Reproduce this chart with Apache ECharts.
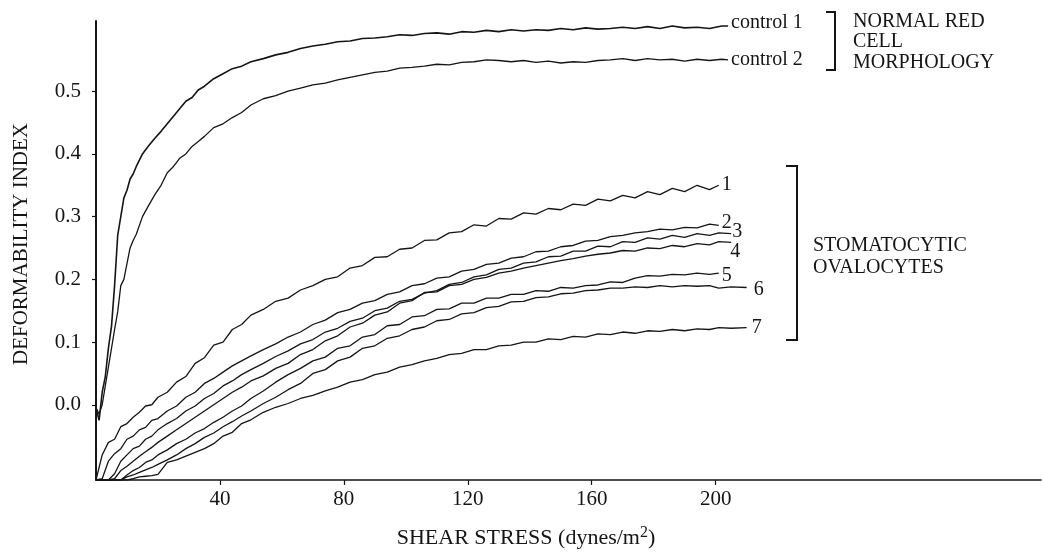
<!DOCTYPE html>
<html>
<head>
<meta charset="utf-8">
<script src="https://cdn.jsdelivr.net/npm/echarts@6/dist/echarts.min.js"></script>
<style>
html,body{margin:0;padding:0;background:#fff;}
#chart{width:1042px;height:557px;}
</style>
</head>
<body>
<div id="chart"></div>
<script>
// ---- data ----
var xTicks = [40, 80, 120, 160, 200];
var yTicks = [0, 0.1, 0.2, 0.3, 0.4, 0.5];

var controlX = [0,1,2,3,4,5,6,7,8,9,10,11,12,13,15,17,19,21,23,25,27,29,31,33,35,38,41,44,47,50,54,58,62,66,70,74,78,82,86,90,94,98,102,106,110,114,118,122,126,130,134,138,142,146,150,154,158,162,166,170,174,178,182,186,190,194,198,202,204];
var control1 = [-0.005,-0.025,0.02,0.045,0.09,0.125,0.19,0.27,0.3,0.33,0.342,0.36,0.368,0.38,0.4,0.413,0.425,0.436,0.448,0.46,0.472,0.484,0.49,0.502,0.508,0.52,0.528,0.536,0.54,0.547,0.552,0.558,0.562,0.568,0.572,0.575,0.579,0.58,0.584,0.585,0.587,0.59,0.589,0.592,0.593,0.591,0.595,0.594,0.597,0.595,0.598,0.596,0.598,0.597,0.6,0.598,0.601,0.599,0.6,0.602,0.6,0.603,0.6,0.604,0.601,0.602,0.6,0.604,0.604];
var control2 = [-0.005,-0.015,0.0,0.03,0.06,0.09,0.12,0.148,0.19,0.2,0.225,0.25,0.262,0.272,0.3,0.318,0.335,0.35,0.37,0.38,0.393,0.4,0.412,0.42,0.428,0.442,0.448,0.458,0.466,0.478,0.488,0.493,0.5,0.505,0.51,0.513,0.518,0.522,0.526,0.53,0.532,0.537,0.538,0.54,0.543,0.542,0.546,0.547,0.55,0.549,0.547,0.549,0.546,0.548,0.545,0.547,0.546,0.549,0.55,0.552,0.549,0.552,0.55,0.551,0.548,0.551,0.549,0.551,0.55];

var ovalX = [0,2,4,6,8,10,12,14,16,18,20,23,26,29,32,35,38,41,44,47,50,54,58,62,66,70,74,78,82,86,90,94,98,102,106,110,114,118,122,126,130,134,138,142,146,150,154,158,162,166,170,174,178,182,186,190,194,198,201,205,210];
var oval1 = [-0.12,-0.08,-0.06,-0.055,-0.035,-0.03,-0.02,-0.012,-0.002,0.0,0.012,0.02,0.036,0.045,0.066,0.075,0.095,0.1,0.12,0.128,0.143,0.152,0.165,0.17,0.183,0.19,0.2,0.204,0.218,0.222,0.235,0.236,0.248,0.25,0.262,0.263,0.274,0.276,0.287,0.285,0.297,0.296,0.306,0.304,0.313,0.311,0.32,0.318,0.328,0.325,0.334,0.33,0.34,0.335,0.345,0.34,0.35,0.343,0.35,null,null];
var oval2 = [-0.12,-0.118,-0.09,-0.078,-0.07,-0.055,-0.05,-0.04,-0.036,-0.025,-0.022,-0.01,-0.002,0.012,0.02,0.034,0.042,0.052,0.062,0.07,0.078,0.088,0.097,0.108,0.116,0.128,0.135,0.147,0.152,0.162,0.166,0.176,0.18,0.19,0.193,0.202,0.204,0.213,0.216,0.224,0.226,0.234,0.236,0.244,0.245,0.252,0.254,0.261,0.262,0.268,0.27,0.274,0.276,0.28,0.279,0.283,0.282,0.288,0.286,null,null];
var oval3 = [-0.12,-0.12,-0.12,-0.11,-0.09,-0.08,-0.07,-0.066,-0.055,-0.05,-0.04,-0.03,-0.022,-0.01,-0.002,0.01,0.018,0.03,0.038,0.048,0.056,0.066,0.077,0.086,0.097,0.104,0.116,0.122,0.133,0.138,0.15,0.154,0.165,0.168,0.178,0.182,0.192,0.195,0.204,0.207,0.216,0.218,0.226,0.228,0.236,0.237,0.245,0.245,0.253,0.252,0.26,0.259,0.266,0.264,0.27,0.267,0.273,0.27,0.274,0.273,null];
var oval4 = [-0.12,-0.12,-0.12,-0.118,-0.105,-0.098,-0.09,-0.082,-0.075,-0.068,-0.06,-0.05,-0.04,-0.03,-0.02,-0.01,0.0,0.01,0.02,0.028,0.038,0.046,0.058,0.066,0.08,0.088,0.102,0.11,0.124,0.13,0.143,0.148,0.162,0.166,0.179,0.18,0.19,0.192,0.2,0.203,0.21,0.213,0.218,0.222,0.226,0.23,0.233,0.237,0.24,0.242,0.246,0.245,0.25,0.249,0.254,0.252,0.257,0.255,0.26,0.259,null];
var oval5 = [-0.12,-0.12,-0.12,-0.12,-0.12,-0.112,-0.105,-0.1,-0.092,-0.088,-0.08,-0.072,-0.062,-0.055,-0.045,-0.038,-0.028,-0.02,-0.01,-0.002,0.01,0.022,0.036,0.048,0.058,0.07,0.076,0.09,0.094,0.108,0.112,0.126,0.128,0.14,0.142,0.152,0.153,0.162,0.162,0.17,0.17,0.176,0.176,0.182,0.181,0.187,0.186,0.19,0.191,0.196,0.195,0.202,0.206,0.205,0.208,0.207,0.21,0.208,0.21,null,null];
var oval6 = [-0.12,-0.12,-0.12,-0.12,-0.12,-0.115,-0.112,-0.108,-0.104,-0.1,-0.095,-0.088,-0.08,-0.07,-0.062,-0.052,-0.045,-0.035,-0.027,-0.018,-0.01,0.002,0.012,0.024,0.034,0.05,0.056,0.07,0.076,0.09,0.094,0.106,0.11,0.12,0.124,0.134,0.136,0.145,0.147,0.155,0.157,0.164,0.165,0.171,0.172,0.177,0.178,0.182,0.183,0.186,0.186,0.188,0.187,0.19,0.188,0.19,0.189,0.19,0.186,0.188,0.187];
var oval7 = [-0.12,-0.12,-0.12,-0.12,-0.12,-0.12,-0.118,-0.115,-0.114,-0.113,-0.111,-0.092,-0.088,-0.082,-0.076,-0.07,-0.062,-0.05,-0.044,-0.03,-0.024,-0.012,-0.004,0.002,0.01,0.015,0.022,0.028,0.036,0.04,0.048,0.052,0.06,0.064,0.07,0.074,0.08,0.082,0.088,0.088,0.094,0.095,0.1,0.1,0.105,0.104,0.109,0.108,0.113,0.112,0.116,0.114,0.118,0.117,0.12,0.118,0.121,0.12,0.123,0.122,0.123];

var controlNames = ['control 1', 'control 2'];
var ovalNames = ['1','2','3','4','5','6','7'];
var labelOffsets = [[0,-1],[0,-3],[-2,-2],[-4,9],[0,3],[4,2],[2,0]];

// ---- build ----
var FONT = 'Liberation Serif';
var INK = '#151515';
function pairs(xs, ys){
  var out = [];
  for (var i = 0; i < xs.length; i++) if (ys[i] !== null) out.push([xs[i], ys[i]]);
  return out;
}
function lineSeries(name, data, width, offset){
  return {
    type: 'line', name: name, data: data, showSymbol: false, symbol: 'none',
    lineStyle: {color: INK, width: width}, silent: true,
    endLabel: {show: true, formatter: function(p){return p.seriesName;}, color: INK,
      fontFamily: FONT, fontSize: 20, distance: 3, offset: offset || [0,0]}
  };
}
var series = [];
series.push(lineSeries(controlNames[0], pairs(controlX, control1), 1.6, [0,-3]));
series.push(lineSeries(controlNames[1], pairs(controlX, control2), 1.3, [0,0]));
var ovals = [oval1, oval2, oval3, oval4, oval5, oval6, oval7];
ovals.forEach(function(ys, i){
  series.push(lineSeries(ovalNames[i], pairs(ovalX, ys), 1.3, labelOffsets[i]));
});

var chart = echarts.init(document.getElementById('chart'), null, {renderer: 'canvas'});
chart.setOption({
  animation: false,
  backgroundColor: '#fff',
  textStyle: {fontFamily: FONT, color: INK},
  grid: {left: 96, right: 1, top: 21, bottom: 77},
  xAxis: {
    type: 'value', min: 0, max: 305,
    axisLine: {onZero: false, lineStyle: {color: INK, width: 1.5}},
    axisTick: {show: true, customValues: xTicks, length: 5, lineStyle: {color: INK, width: 1.2}},
    axisLabel: {customValues: xTicks, color: INK, fontFamily: FONT, fontSize: 21, margin: 9},
    splitLine: {show: false}
  },
  yAxis: {
    type: 'value', min: -0.12, max: 0.612,
    axisLine: {show: true, onZero: false, lineStyle: {color: INK, width: 2}},
    axisTick: {show: true, customValues: yTicks, length: 4, lineStyle: {color: INK, width: 1.2}},
    axisLabel: {customValues: yTicks, color: INK, fontFamily: FONT, fontSize: 21, margin: 15,
      formatter: function(v){ return v.toFixed(1); }},
    splitLine: {show: false}
  },
  graphic: [
    {type: 'text', x: 21, y: 244, rotation: Math.PI/2,
      style: {text: 'DEFORMABILITY INDEX', font: '21px "Liberation Serif"', fill: INK, textAlign: 'center', textVerticalAlign: 'middle'}},
    {type: 'text', x: 526, y: 538,
      style: {text: 'SHEAR STRESS (dynes/m{s|2})', font: '22px "Liberation Serif"', fill: INK, textAlign: 'center', textVerticalAlign: 'middle',
        rich: {s: {fontSize: 16, fontFamily: FONT, verticalAlign: 'top', padding: [0,0,10,0]}}}},
    {type: 'polyline', shape: {points: [[826,12],[835,12],[835,70],[826,70]]}, style: {stroke: INK, lineWidth: 2, fill: null}},
    {type: 'polyline', shape: {points: [[786,166],[797,166],[797,340],[786,340]]}, style: {stroke: INK, lineWidth: 2, fill: null}},
    {type: 'text', x: 853, y: 22, style: {text: 'NORMAL RED', font: '20px "Liberation Serif"', fill: INK, textVerticalAlign: 'middle'}},
    {type: 'text', x: 853, y: 42, style: {text: 'CELL', font: '20px "Liberation Serif"', fill: INK, textVerticalAlign: 'middle'}},
    {type: 'text', x: 853, y: 63, style: {text: 'MORPHOLOGY', font: '20px "Liberation Serif"', fill: INK, textVerticalAlign: 'middle'}},
    {type: 'text', x: 813, y: 246, style: {text: 'STOMATOCYTIC', font: '20px "Liberation Serif"', fill: INK, textVerticalAlign: 'middle'}},
    {type: 'text', x: 813, y: 268, style: {text: 'OVALOCYTES', font: '20px "Liberation Serif"', fill: INK, textVerticalAlign: 'middle'}}
  ],
  series: series
});
</script>
</body>
</html>
